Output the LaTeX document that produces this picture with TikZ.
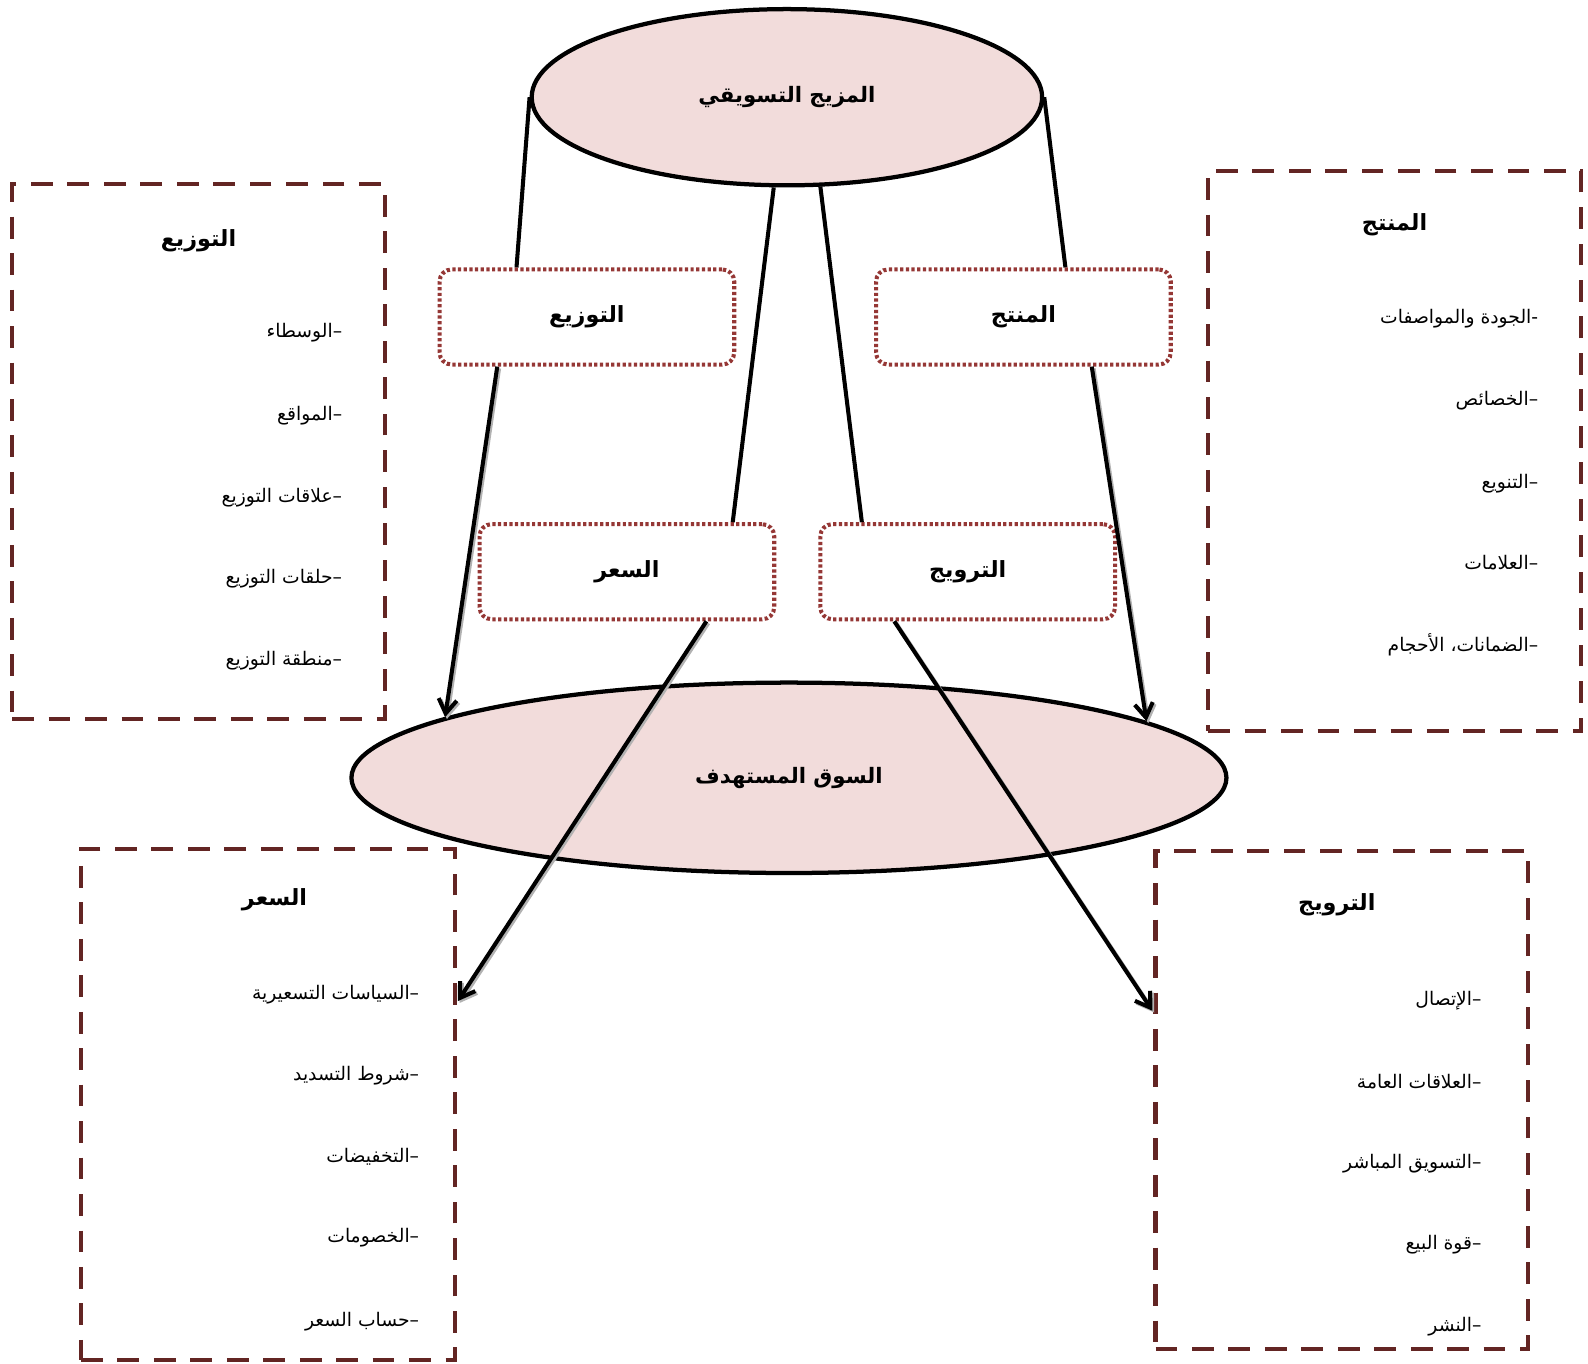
\documentclass[tikz,border=0pt]{standalone}
\usepackage{fontspec}
\usetikzlibrary{shapes.geometric,arrows.meta,calc}
\TeXXeTstate=1
\newfontfamily\ar[Script=Arabic]{DejaVu Sans}
\definecolor{pinkfill}{HTML}{F2DCDB}
\definecolor{dotred}{HTML}{953735}
\definecolor{dashred}{HTML}{632523}
\newcommand{\itm}[1]{\ar\fontsize{18.5}{22}\selectfont\beginR #1\endR}
\newcommand{\ttl}[1]{\ar\bfseries\fontsize{22}{26}\selectfont\beginR #1\endR}
\newcommand{\etl}[1]{\ar\bfseries\fontsize{21}{26}\selectfont\beginR #1\endR}
\tikzset{
  ellnode/.style={ellipse,draw=black,fill=pinkfill,line width=4.2pt,inner sep=0pt},
  dotbox/.style={draw=dotred,line width=4pt,dash pattern=on 3.2pt off 2.4pt,rounded corners=12pt,minimum width=291pt,minimum height=94pt,inner sep=0pt},
  dashbox/.style={draw=dashred,line width=4.2pt,dash pattern=on 21.5pt off 14.5pt,inner sep=0pt},
  conn/.style={draw=black,line width=4pt},
  arr/.style={draw=black,line width=4pt,-{Straight Barb[length=14pt,width=18pt,line width=4pt]},
    preaction={draw=gray!60,line width=4pt,transform canvas={shift={(1.8pt,-1.8pt)}}}},
  item/.style={anchor=east,inner sep=0pt},
  boxtitle/.style={inner sep=0pt}
}
\begin{document}
\begin{tikzpicture}[x=1pt,y=-1pt]
\useasboundingbox (0,0) rectangle (1568,1346);
% big dashed boxes
\node[dashbox,minimum width=368pt,minimum height=528pt] (distbig) at (196,446) {};
\node[dashbox,minimum width=368pt,minimum height=553pt] (prodbig) at (1377,445.5) {};
\node[dashbox,minimum width=369pt,minimum height=505pt] (pricebig) at (264.5,1090.5) {};
\node[dashbox,minimum width=368pt,minimum height=492pt] (promobig) at (1325,1086) {};
% ellipses
\node[ellnode,minimum width=504pt,minimum height=174pt] (mix) at (777,96) {\etl{المزيج التسويقي}};
\node[ellnode,minimum width=864pt,minimum height=188pt] (market) at (779,768) {\etl{السوق المستهدف}};
% dotted boxes
\node[dotbox] (dist) at (579.5,313) {\ttl{التوزيع}};
\node[dotbox] (prod) at (1010.5,313) {\ttl{المنتج}};
\node[dotbox] (price) at (619,564.5) {\ttl{السعر}};
\node[dotbox] (promo) at (955.5,564.5) {\ttl{الترويج}};
% connectors
\draw[conn] (mix.west) -- ([xshift=78pt]dist.north west);
\draw[conn] (mix.east) -- ([xshift=189pt]prod.north west);
\draw[conn] ([xshift=-13pt]mix.south) -- ([xshift=252pt]price.north west);
\draw[conn] ([xshift=33pt,yshift=1pt]mix.south) -- ([xshift=43pt]promo.north west);
\draw[arr] ([xshift=59pt]dist.south west) -- (market.170.6);
\draw[arr] ([xshift=215pt]prod.south west) -- (market.9.4);
\draw[arr] ([xshift=226pt]price.south west) -- ([yshift=102pt,xshift=1pt]pricebig.east);
\draw[arr] ([xshift=75pt]promo.south west) -- ([yshift=88pt,xshift=-1pt]promobig.west);
% box contents: distribution
\node[boxtitle] (t1) at (196,238) {\ttl{التوزيع}};
\node[item] (a1) at (338,328) {\itm{–الوسطاء}};
\node[item] (a2) at (338,410) {\itm{–المواقع}};
\node[item] (a3) at (338,491) {\itm{–علاقات التوزيع}};
\node[item] (a4) at (338,571) {\itm{–حلقات التوزيع}};
\node[item] (a5) at (338,652) {\itm{–منطقة التوزيع}};
% product
\node[boxtitle] (t2) at (1377,222) {\ttl{المنتج}};
\node[item] (b1) at (1519,315) {\itm{-الجودة والمواصفات}};
\node[item] (b2) at (1519,396) {\itm{–الخصائص}};
\node[item] (b3) at (1519,478) {\itm{–التنويع}};
\node[item] (b4) at (1519,556) {\itm{–العلامات}};
\node[item] (b5) at (1519,637) {\itm{–الضمانات، الأحجام}};
% price
\node[boxtitle] (t3) at (271,888) {\ttl{السعر}};
\node[item] (c1) at (414,982) {\itm{–السياسات التسعيرية}};
\node[item] (c2) at (414,1062) {\itm{–شروط التسديد}};
\node[item] (c3) at (414,1142) {\itm{–التخفيضات}};
\node[item] (c4) at (414,1222) {\itm{–الخصومات}};
\node[item] (c5) at (414,1305) {\itm{–حساب السعر}};
% promotion
\node[boxtitle] (t4) at (1320,893) {\ttl{الترويج}};
\node[item] (d1) at (1463,988) {\itm{–الإتصال}};
\node[item] (d2) at (1463,1068) {\itm{–العلاقات العامة}};
\node[item] (d3) at (1463,1149) {\itm{–التسويق المباشر}};
\node[item] (d4) at (1463,1229) {\itm{–قوة البيع}};
\node[item] (d5) at (1463,1310) {\itm{–النشر}};
\end{tikzpicture}
\end{document}
